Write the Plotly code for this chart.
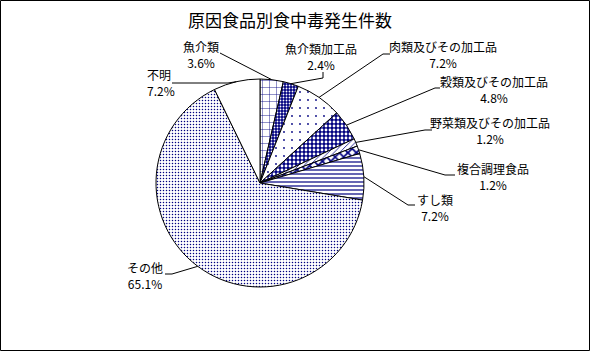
import math
import plotly.graph_objects as go

# ---- data ----
categories = ["魚介類", "魚介類加工品", "肉類及びその加工品", "穀類及びその加工品",
              "野菜類及びその加工品", "複合調理食品", "すし類", "その他", "不明"]
values = [3.6, 2.4, 7.2, 4.8, 1.2, 1.2, 7.2, 65.1, 7.2]
title_text = "原因食品別食中毒発生件数"

# ---- styling ----
W, H = 590, 351
NAVY = "#000080"
cx, cy, R = 260, 183, 104  # pie centre / radius in pixels

shapes_ = ["+", ".", ".", ".", "/", "x", "-", ".", ""]
fg = ["#000080", "#ffffff", "#000080", "#ffffff", "#000080", "#000080", "#000080", "#000080", "#000080"]
bg = ["#ffffff", "#000080", "#ffffff", "#000080", "#ffffff", "#ffffff", "#ffffff", "#ffffff", "#ffffff"]
psize = [7, 3, 8, 4, 4, 6, 4, 3, 8]
psolid = [0.12, 0.3, 0.04, 0.4, 0.2, 0.5, 0.3, 0.21, 0.1]

# label block centres (pixels), alignment
label_pos = [(201, 55, "center"), (321, 57, "center"), (443, 55, "center"),
             (494, 89, "center"), (490, 130, "center"), (493, 176, "center"),
             (435, 207, "center"), (145, 275, "center"), (145, 83, "left")]
# label-side points of leader lines (pixels)
leader_pts = [
    [(220, 53)],
    [(323, 72), (323, 78)],
    [(390, 54), (383, 54)],
    [(440, 88), (435, 88)],
    [(432, 130), (425, 130)],
    [(455, 175), (445, 175)],
    [(415, 205), (408, 205)],
    [(165, 274), (172, 274)],
    [(172, 83), (228, 83)],
]


def px(x):
    return x / W


def py(y):
    return 1 - y / H


fig = go.Figure()
fig.add_trace(go.Pie(
    labels=categories, values=values, sort=False, direction="clockwise",
    rotation=0, textinfo="none", hoverinfo="label+percent",
    showlegend=False,
    domain=dict(x=[px(cx - R), px(cx + R)], y=[py(cy + R), py(cy - R)]),
    marker=dict(
        colors=bg,
        line=dict(color="#000000", width=1),
        pattern=dict(shape=shapes_, fgcolor=fg, bgcolor=bg, size=psize,
                     solidity=psolid, fillmode="replace"),
    ),
))

total = sum(values)
cum = 0.0
annotations = []
shapes = []
for i, (cat, v) in enumerate(zip(categories, values)):
    mid = (cum + v / 2) / total * 2 * math.pi
    cum += v
    ex = cx + R * math.sin(mid)
    ey = cy - R * math.cos(mid)
    pts = leader_pts[i] + [(ex, ey)]
    path = "M " + " L ".join(f"{px(x):.5f},{py(y):.5f}" for x, y in pts)
    shapes.append(dict(type="path", xref="paper", yref="paper", path=path,
                       line=dict(color="#000000", width=1)))
    lx, ly, al = label_pos[i]
    annotations.append(dict(
        x=px(lx), y=py(ly), xref="paper", yref="paper", showarrow=False,
        text=f"{cat}<br>{v:.1f}%", align=al,
        xanchor="left" if al == "left" else "center", yanchor="middle",
        font=dict(family="Noto Sans CJK JP", size=12, color="#000000"),
    ))

annotations.append(dict(
    x=px(290), y=py(20), xref="paper", yref="paper", showarrow=False,
    text=title_text, xanchor="center", yanchor="middle",
    font=dict(family="Noto Sans CJK JP", size=17, color="#000000"),
))

shapes.append(dict(type="rect", xref="paper", yref="paper",
                   x0=px(0.5), x1=px(589.5), y0=py(350.5), y1=py(0.5),
                   line=dict(color="#000000", width=1)))

fig.update_layout(
    width=W, height=H, margin=dict(l=0, r=0, t=0, b=0),
    paper_bgcolor="#ffffff", plot_bgcolor="#ffffff",
    annotations=annotations, shapes=shapes,
    font=dict(family="Noto Sans CJK JP"),
)
fig.write_html("out.html")
